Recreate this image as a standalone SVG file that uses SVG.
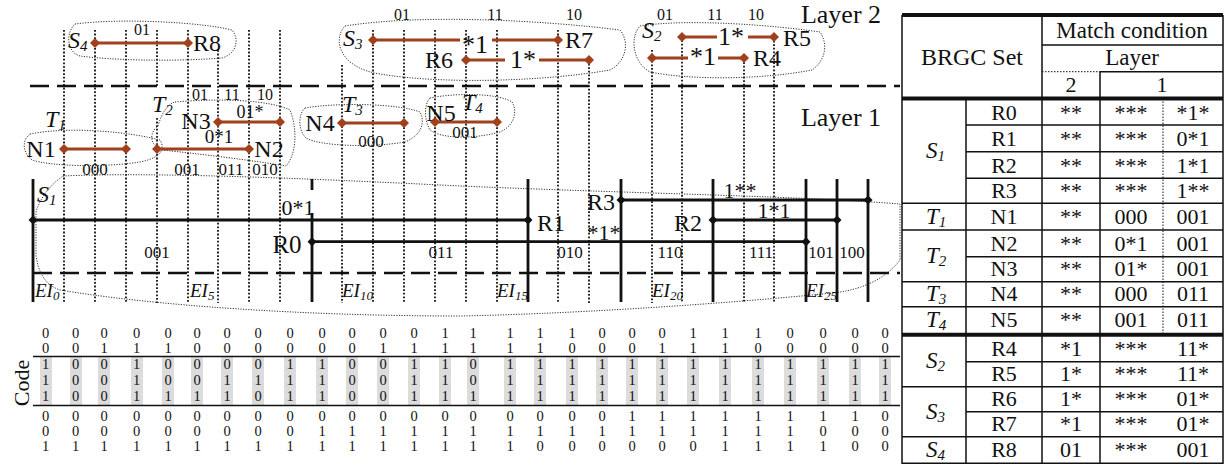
<svg xmlns="http://www.w3.org/2000/svg" width="1227" height="468" viewBox="0 0 1227 468">
<style>
text{font-family:"Liberation Serif","Times New Roman",serif;fill:#111}
.c{text-anchor:middle}
.it{font-style:italic}
.lab{font-size:24px}
.code{font-size:17px}
.top{font-size:16px}
.pat{font-size:26px}
.dig{font-size:14.5px;text-anchor:middle}
.tb{font-size:22px;text-anchor:middle}
.dot{stroke:#111;stroke-width:1.8;stroke-dasharray:1.8 1.8;fill:none}
.blob{stroke:#333;stroke-width:1;stroke-dasharray:1.2 1.4;fill:none}
.dash{stroke:#111;stroke-width:2.6;stroke-dasharray:19 8;fill:none}
.thick{stroke:#111;stroke-width:2.8;fill:none}
.br{stroke:#A0401C;stroke-width:3;fill:none}
.tl{stroke:#111;stroke-width:1.5;fill:none}
.tt{stroke:#111;stroke-width:4;fill:none}
</style>
<defs>
<path id="dk" d="M-4.5 0 L0 -4.5 L4.5 0 L0 4.5 Z" fill="#111"/>
<path id="db" d="M-5 0 L0 -5 L5 0 L0 5 Z" fill="#A0401C"/>
</defs>
<rect width="1227" height="468" fill="#fff"/>

<!-- grid -->
<g id="grid">
<path class="dot" d="M64 30V303M95 30V303M126 30V303M157 30V86M157 118V303M188 30V303M218 50V303M249 30V303M280 30V303M342 65V303M373 30V303M404 30V303M435 30V303M466 30V303M497 30V303M558 30V303M589 60V303M652 50V303M682 33V303M744 55V303M774 37V303"/>
<path class="dash" d="M30 86H900M33 273H900"/>
<text x="841" y="23" class="c" font-size="26">Layer 2</text>
<text x="841" y="126" class="c" font-size="26">Layer 1</text>
</g>

<!-- blobs -->
<g id="blobs">
<path class="blob" d="M75 24C120 18 200 22 232 30C240 40 236 54 222 58C170 62 110 60 80 56C66 52 66 32 75 24Z"/>
<path class="blob" d="M345 26C420 14 540 20 620 30C630 42 626 62 610 70C540 82 440 84 380 74C340 68 332 40 345 26Z"/>
<path class="blob" d="M640 26C690 18 780 26 820 32C828 44 826 60 812 70C760 80 690 80 650 72C632 62 630 36 640 26Z"/>
<path class="blob" d="M30 134C70 126 130 132 160 140C166 150 160 158 140 162C100 168 50 166 32 160C22 152 22 140 30 134Z"/>
<path class="blob" d="M175 102C220 98 270 100 290 110C298 130 296 155 286 166C250 160 200 154 162 150C148 144 150 132 158 126C162 112 168 104 175 102Z"/>
<path class="blob" d="M305 108C340 102 400 104 420 112C426 124 420 136 405 142C370 148 320 146 306 138C298 130 298 114 305 108Z"/>
<path class="blob" d="M430 98C460 92 500 94 512 102C518 112 514 126 500 132C470 140 440 138 430 130C424 120 424 104 430 98Z"/>
<path class="blob" d="M63 176C150 172 300 178 460 186C650 194 800 196 900 204L900 260C885 280 860 290 833 293C700 306 560 314 460 316C300 316 150 305 60 290C45 285 38 272 36 255L36 212C40 198 50 185 63 176Z"/>
</g>

<!-- Layer 2 nodes -->
<g id="S4">
<path class="br" d="M95 43H188"/><use href="#db" x="95" y="43"/><use href="#db" x="188" y="43"/>
<text x="68" y="48" class="it" font-size="24">S<tspan font-size="15" dy="3">4</tspan></text>
<text x="207" y="51" class="c lab">R8</text>
<text x="142" y="35" class="c top">01</text>
</g>
<g id="S3">
<path class="br" d="M373 40H460M492 40H558"/><use href="#db" x="373" y="40"/><use href="#db" x="558" y="40"/>
<path class="br" d="M466 60H505M539 60H589"/><use href="#db" x="466" y="60"/><use href="#db" x="589" y="60"/>
<text x="343" y="46" class="it" font-size="24">S<tspan font-size="15" dy="3">3</tspan></text>
<text x="402" y="20" class="c top">01</text><text x="495" y="20" class="c top">11</text><text x="574" y="20" class="c top">10</text>
<text x="475" y="53" class="c pat">*1</text>
<text x="579" y="48" class="c lab">R7</text>
<text x="439" y="68" class="c lab">R6</text>
<text x="523" y="68" class="c pat">1*</text>
</g>
<g id="S2">
<path class="br" d="M682 37H717M748 37H774"/><use href="#db" x="682" y="37"/><use href="#db" x="774" y="37"/>
<path class="br" d="M652 58H688M718 58H744"/><use href="#db" x="652" y="58"/><use href="#db" x="744" y="58"/>
<text x="642" y="38" class="it" font-size="24">S<tspan font-size="15" dy="3">2</tspan></text>
<text x="665" y="20" class="c top">01</text><text x="715" y="20" class="c top">11</text><text x="756" y="20" class="c top">10</text>
<text x="731" y="45" class="c pat">1*</text>
<text x="797" y="46" class="c lab">R5</text>
<text x="703" y="65" class="c pat">*1</text>
<text x="767" y="66" class="c lab">R4</text>
</g>

<!-- Layer 1 nodes -->
<g id="T1">
<path class="br" d="M64 149H126"/><use href="#db" x="64" y="149"/><use href="#db" x="126" y="149"/>
<text x="45" y="127" class="it" font-size="24">T<tspan font-size="15" dy="3">1</tspan></text>
<text x="41" y="157" class="c lab">N1</text>
<text x="95" y="175" class="c code">000</text>
</g>
<g id="T2">
<path class="br" d="M157 149H249"/><use href="#db" x="157" y="149"/><use href="#db" x="249" y="149"/>
<path class="br" d="M218 122H280"/><use href="#db" x="218" y="122"/><use href="#db" x="280" y="122"/>
<text x="152" y="112" class="it" font-size="24">T<tspan font-size="15" dy="3">2</tspan></text>
<text x="196" y="129" class="c lab">N3</text>
<text x="200" y="100" class="c top">01</text><text x="232" y="100" class="c top">11</text><text x="265" y="100" class="c top">10</text>
<text x="250" y="118" class="c" font-size="18">01*</text>
<text x="219" y="143" class="c" font-size="19">0*1</text>
<text x="269" y="157" class="c lab">N2</text>
<text x="187" y="175" class="c code">001</text>
<text x="231" y="175" class="c code">011</text><text x="265" y="175" class="c code">010</text>
</g>
<g id="T3">
<path class="br" d="M342 123H404"/><use href="#db" x="342" y="123"/><use href="#db" x="404" y="123"/>
<text x="320" y="131" class="c lab">N4</text>
<text x="342" y="112" class="it" font-size="24">T<tspan font-size="15" dy="3">3</tspan></text>
<text x="371" y="147" class="c code">000</text>
</g>
<g id="T4">
<path class="br" d="M435 122H497"/><use href="#db" x="435" y="122"/><use href="#db" x="497" y="122"/>
<text x="441" y="121" class="c lab">N5</text>
<text x="462" y="110" class="it" font-size="24">T<tspan font-size="15" dy="3">4</tspan></text>
<text x="465" y="138" class="c code">001</text>
</g>

<!-- S1 -->
<g id="S1">
<path class="thick" d="M33 179V302M312 179V190M312 213V302M528 179V302M621 179V302M713 179V302M806 179V302M837 179V302M868 179V302"/>
<path class="thick" stroke-width="2.5" d="M33 220H528M312 241.7H806M621 200H868M713 220H837"/>
<use href="#dk" x="33" y="220"/><use href="#dk" x="528" y="220"/>
<use href="#dk" x="312" y="241.7"/><use href="#dk" x="806" y="241.7"/>
<use href="#dk" x="621" y="200"/><use href="#dk" x="868" y="200"/>
<use href="#dk" x="713" y="220"/><use href="#dk" x="837" y="220"/>
<text x="37" y="202" class="it" font-size="24">S<tspan font-size="15" dy="3">1</tspan></text>
<text x="298" y="215" class="c" font-size="22">0*1</text>
<text x="551" y="231" class="c lab">R1</text>
<text x="287" y="253" class="c" font-size="25">R0</text>
<text x="601" y="210" class="c lab">R3</text>
<text x="688" y="231" class="c lab">R2</text>
<text x="604" y="240" class="c" font-size="22">*1*</text>
<text x="740" y="198" class="c" font-size="22">1**</text>
<text x="774" y="218" class="c" font-size="22">1*1</text>
<g class="code">
<text x="157" y="258" class="c">001</text><text x="441" y="258" class="c">011</text><text x="570" y="258" class="c">010</text><text x="670" y="258" class="c">110</text><text x="761" y="258" class="c">111</text><text x="821" y="258" class="c">101</text><text x="852" y="258" class="c">100</text>
</g>
</g>

<!-- EI labels -->
<g id="EI" fill="#222">
<text x="35" y="297" class="it" font-size="19">EI<tspan font-size="13" dy="3">0</tspan></text>
<text x="190" y="297" class="it" font-size="19">EI<tspan font-size="13" dy="3">5</tspan></text>
<text x="342" y="297" class="it" font-size="19">EI<tspan font-size="13" dy="3">10</tspan></text>
<text x="497" y="297" class="it" font-size="19">EI<tspan font-size="13" dy="3">15</tspan></text>
<text x="652" y="297" class="it" font-size="19">EI<tspan font-size="13" dy="3">20</tspan></text>
<text x="806" y="297" class="it" font-size="19">EI<tspan font-size="13" dy="3">25</tspan></text>
</g>

<!-- Code -->
<g id="code">
<g fill="#dcdcdc">
<rect x="40" y="357" width="12" height="48"/><rect x="70" y="357" width="12" height="48"/><rect x="98" y="357" width="12" height="48"/><rect x="131" y="357" width="12" height="48"/><rect x="162" y="357" width="12" height="48"/><rect x="191" y="357" width="12" height="48"/><rect x="221" y="357" width="12" height="48"/><rect x="252" y="357" width="12" height="48"/><rect x="284" y="357" width="12" height="48"/><rect x="316" y="357" width="12" height="48"/><rect x="346" y="357" width="12" height="48"/><rect x="377" y="357" width="12" height="48"/><rect x="408" y="357" width="12" height="48"/><rect x="439" y="357" width="12" height="48"/><rect x="467" y="357" width="12" height="48"/><rect x="504" y="357" width="12" height="48"/><rect x="534" y="357" width="12" height="48"/><rect x="566" y="357" width="12" height="48"/><rect x="596" y="357" width="12" height="48"/><rect x="626" y="357" width="12" height="48"/><rect x="656" y="357" width="12" height="48"/><rect x="687" y="357" width="12" height="48"/><rect x="719" y="357" width="12" height="48"/><rect x="752" y="357" width="12" height="48"/><rect x="784" y="357" width="12" height="48"/><rect x="817" y="357" width="12" height="48"/><rect x="849" y="357" width="12" height="48"/><rect x="879" y="357" width="12" height="48"/>
</g>
<path stroke="#111" stroke-width="1.6" d="M33 356.5H900M33 405.5H900"/>
<text transform="translate(29 383) rotate(-90)" class="c" font-size="22">Code</text>
<g class="dig">
<text x="45.7" y="338">0</text><text x="45.7" y="353">0</text><text x="45.7" y="369">1</text><text x="45.7" y="385">1</text><text x="45.7" y="401">1</text><text x="45.7" y="421">0</text><text x="45.7" y="436">0</text><text x="45.7" y="451">1</text>
<text x="75.7" y="338">0</text><text x="75.7" y="353">0</text><text x="75.7" y="369">0</text><text x="75.7" y="385">0</text><text x="75.7" y="401">0</text><text x="75.7" y="421">0</text><text x="75.7" y="436">0</text><text x="75.7" y="451">1</text>
<text x="104" y="338">0</text><text x="104" y="353">1</text><text x="104" y="369">0</text><text x="104" y="385">0</text><text x="104" y="401">0</text><text x="104" y="421">0</text><text x="104" y="436">0</text><text x="104" y="451">1</text>
<text x="136.7" y="338">0</text><text x="136.7" y="353">1</text><text x="136.7" y="369">1</text><text x="136.7" y="385">1</text><text x="136.7" y="401">1</text><text x="136.7" y="421">0</text><text x="136.7" y="436">0</text><text x="136.7" y="451">1</text>
<text x="168" y="338">0</text><text x="168" y="353">1</text><text x="168" y="369">0</text><text x="168" y="385">0</text><text x="168" y="401">1</text><text x="168" y="421">0</text><text x="168" y="436">0</text><text x="168" y="451">1</text>
<text x="197" y="338">0</text><text x="197" y="353">0</text><text x="197" y="369">0</text><text x="197" y="385">0</text><text x="197" y="401">1</text><text x="197" y="421">0</text><text x="197" y="436">0</text><text x="197" y="451">1</text>
<text x="227" y="338">0</text><text x="227" y="353">0</text><text x="227" y="369">0</text><text x="227" y="385">1</text><text x="227" y="401">1</text><text x="227" y="421">0</text><text x="227" y="436">0</text><text x="227" y="451">1</text>
<text x="258" y="338">0</text><text x="258" y="353">0</text><text x="258" y="369">0</text><text x="258" y="385">1</text><text x="258" y="401">0</text><text x="258" y="421">0</text><text x="258" y="436">0</text><text x="258" y="451">1</text>
<text x="290" y="338">0</text><text x="290" y="353">0</text><text x="290" y="369">1</text><text x="290" y="385">1</text><text x="290" y="401">1</text><text x="290" y="421">0</text><text x="290" y="436">0</text><text x="290" y="451">1</text>
<text x="322" y="338">0</text><text x="322" y="353">0</text><text x="322" y="369">1</text><text x="322" y="385">1</text><text x="322" y="401">1</text><text x="322" y="421">0</text><text x="322" y="436">1</text><text x="322" y="451">1</text>
<text x="352" y="338">0</text><text x="352" y="353">0</text><text x="352" y="369">0</text><text x="352" y="385">0</text><text x="352" y="401">0</text><text x="352" y="421">0</text><text x="352" y="436">1</text><text x="352" y="451">1</text>
<text x="383" y="338">0</text><text x="383" y="353">1</text><text x="383" y="369">0</text><text x="383" y="385">0</text><text x="383" y="401">0</text><text x="383" y="421">0</text><text x="383" y="436">1</text><text x="383" y="451">1</text>
<text x="414" y="338">0</text><text x="414" y="353">1</text><text x="414" y="369">1</text><text x="414" y="385">1</text><text x="414" y="401">1</text><text x="414" y="421">0</text><text x="414" y="436">1</text><text x="414" y="451">1</text>
<text x="445" y="338">1</text><text x="445" y="353">1</text><text x="445" y="369">1</text><text x="445" y="385">1</text><text x="445" y="401">1</text><text x="445" y="421">0</text><text x="445" y="436">1</text><text x="445" y="451">1</text>
<text x="473" y="338">1</text><text x="473" y="353">1</text><text x="473" y="369">0</text><text x="473" y="385">0</text><text x="473" y="401">1</text><text x="473" y="421">0</text><text x="473" y="436">1</text><text x="473" y="451">1</text>
<text x="510" y="338">1</text><text x="510" y="353">1</text><text x="510" y="369">1</text><text x="510" y="385">1</text><text x="510" y="401">1</text><text x="510" y="421">0</text><text x="510" y="436">1</text><text x="510" y="451">1</text>
<text x="540" y="338">1</text><text x="540" y="353">1</text><text x="540" y="369">1</text><text x="540" y="385">1</text><text x="540" y="401">1</text><text x="540" y="421">0</text><text x="540" y="436">1</text><text x="540" y="451">0</text>
<text x="572" y="338">1</text><text x="572" y="353">0</text><text x="572" y="369">1</text><text x="572" y="385">1</text><text x="572" y="401">1</text><text x="572" y="421">0</text><text x="572" y="436">1</text><text x="572" y="451">0</text>
<text x="602" y="338">0</text><text x="602" y="353">0</text><text x="602" y="369">1</text><text x="602" y="385">1</text><text x="602" y="401">1</text><text x="602" y="421">0</text><text x="602" y="436">1</text><text x="602" y="451">0</text>
<text x="632" y="338">0</text><text x="632" y="353">0</text><text x="632" y="369">1</text><text x="632" y="385">1</text><text x="632" y="401">1</text><text x="632" y="421">1</text><text x="632" y="436">1</text><text x="632" y="451">0</text>
<text x="662" y="338">0</text><text x="662" y="353">1</text><text x="662" y="369">1</text><text x="662" y="385">1</text><text x="662" y="401">1</text><text x="662" y="421">1</text><text x="662" y="436">1</text><text x="662" y="451">0</text>
<text x="693" y="338">1</text><text x="693" y="353">1</text><text x="693" y="369">1</text><text x="693" y="385">1</text><text x="693" y="401">1</text><text x="693" y="421">1</text><text x="693" y="436">1</text><text x="693" y="451">0</text>
<text x="725" y="338">1</text><text x="725" y="353">1</text><text x="725" y="369">1</text><text x="725" y="385">1</text><text x="725" y="401">1</text><text x="725" y="421">1</text><text x="725" y="436">1</text><text x="725" y="451">1</text>
<text x="758" y="338">1</text><text x="758" y="353">0</text><text x="758" y="369">1</text><text x="758" y="385">1</text><text x="758" y="401">1</text><text x="758" y="421">1</text><text x="758" y="436">1</text><text x="758" y="451">1</text>
<text x="790" y="338">0</text><text x="790" y="353">0</text><text x="790" y="369">1</text><text x="790" y="385">1</text><text x="790" y="401">1</text><text x="790" y="421">1</text><text x="790" y="436">1</text><text x="790" y="451">1</text>
<text x="823" y="338">0</text><text x="823" y="353">0</text><text x="823" y="369">1</text><text x="823" y="385">1</text><text x="823" y="401">1</text><text x="823" y="421">1</text><text x="823" y="436">0</text><text x="823" y="451">1</text>
<text x="855" y="338">0</text><text x="855" y="353">0</text><text x="855" y="369">1</text><text x="855" y="385">1</text><text x="855" y="401">1</text><text x="855" y="421">1</text><text x="855" y="436">0</text><text x="855" y="451">0</text>
<text x="885" y="338">0</text><text x="885" y="353">0</text><text x="885" y="369">1</text><text x="885" y="385">1</text><text x="885" y="401">1</text><text x="885" y="421">0</text><text x="885" y="436">0</text><text x="885" y="451">0</text>
</g>
</g>

<!-- Table -->
<g id="table">
<path class="tt" d="M902 15H1223M902 98.5H1223M902 334.8H1223"/>
<path class="tl" d="M902 15V463.3H1223V15M1042 15V463.3M1100 71.7V463.3M966 98.5V463.3M1042 45H1223M1100 71.7H1223M966 125H1223M966 151.7H1223M966 178.3H1223M902 203.3H1223M902 230H1223M966 256.7H1223M902 281.7H1223M902 306.7H1223M966 361.7H1223M902 386.7H1223M966 411.7H1223M902 436.7H1223"/>
<path stroke="#111" stroke-width="1" stroke-dasharray="1.5 1.5" d="M1042 71.7H1100M1163 98.5V333"/>
<text x="1132" y="38" class="c" font-size="23">Match condition</text>
<text x="1132" y="65" class="c" font-size="23">Layer</text>
<text x="1071" y="92" class="c" font-size="22">2</text>
<text x="1162" y="92" class="c" font-size="22">1</text>
<text x="972" y="65" class="c" font-size="24">BRGC Set</text>
<g class="it" font-size="23">
<text x="926" y="158">S<tspan font-size="15" dy="3">1</tspan></text>
<text x="926" y="224">T<tspan font-size="15" dy="3">1</tspan></text>
<text x="926" y="263">T<tspan font-size="15" dy="3">2</tspan></text>
<text x="926" y="301">T<tspan font-size="15" dy="3">3</tspan></text>
<text x="926" y="327">T<tspan font-size="15" dy="3">4</tspan></text>
<text x="926" y="368">S<tspan font-size="15" dy="3">2</tspan></text>
<text x="926" y="419">S<tspan font-size="15" dy="3">3</tspan></text>
<text x="926" y="457">S<tspan font-size="15" dy="3">4</tspan></text>
</g>
<g class="tb">
<text x="1004" y="120">R0</text><text x="1071" y="120">**</text><text x="1131" y="120">***</text><text x="1193" y="120">*1*</text>
<text x="1004" y="146">R1</text><text x="1071" y="146">**</text><text x="1131" y="146">***</text><text x="1193" y="146">0*1</text>
<text x="1004" y="173">R2</text><text x="1071" y="173">**</text><text x="1131" y="173">***</text><text x="1193" y="173">1*1</text>
<text x="1004" y="198">R3</text><text x="1071" y="198">**</text><text x="1131" y="198">***</text><text x="1193" y="198">1**</text>
<text x="1004" y="224">N1</text><text x="1071" y="224">**</text><text x="1131" y="224">000</text><text x="1193" y="224">001</text>
<text x="1004" y="251">N2</text><text x="1071" y="251">**</text><text x="1131" y="251">0*1</text><text x="1193" y="251">001</text>
<text x="1004" y="276">N3</text><text x="1071" y="276">**</text><text x="1131" y="276">01*</text><text x="1193" y="276">001</text>
<text x="1004" y="301">N4</text><text x="1071" y="301">**</text><text x="1131" y="301">000</text><text x="1193" y="301">011</text>
<text x="1004" y="327">N5</text><text x="1071" y="327">**</text><text x="1131" y="327">001</text><text x="1193" y="327">011</text>
<text x="1004" y="356">R4</text><text x="1071" y="356">*1</text><text x="1131" y="356">***</text><text x="1193" y="356">11*</text>
<text x="1004" y="381">R5</text><text x="1071" y="381">1*</text><text x="1131" y="381">***</text><text x="1193" y="381">11*</text>
<text x="1004" y="406">R6</text><text x="1071" y="406">1*</text><text x="1131" y="406">***</text><text x="1193" y="406">01*</text>
<text x="1004" y="431">R7</text><text x="1071" y="431">*1</text><text x="1131" y="431">***</text><text x="1193" y="431">01*</text>
<text x="1004" y="457">R8</text><text x="1071" y="457">01</text><text x="1131" y="457">***</text><text x="1193" y="457">001</text>
</g>
</g>
</svg>
